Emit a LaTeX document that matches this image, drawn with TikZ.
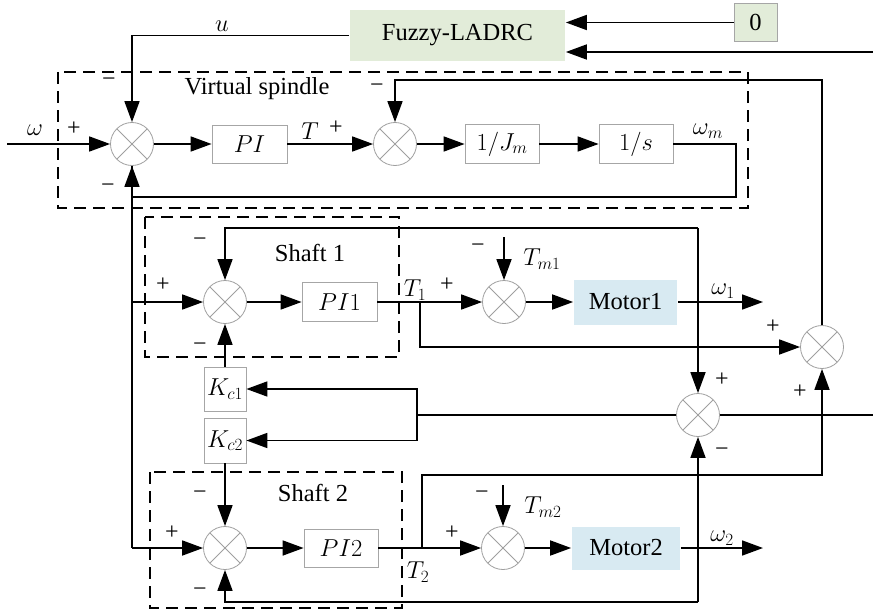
\RequirePackage{fix-cm}
\documentclass[tikz,border=0pt]{standalone}
\usepackage{fontspec}
\setmainfont{Liberation Serif}
\newfontfamily\tnr{Liberation Serif}
\usetikzlibrary{arrows.meta}
\definecolor{fzgreen}{RGB}{226,236,217}
\definecolor{mblue}{RGB}{216,234,242}
\begin{document}
\begin{tikzpicture}[x=1pt,y=-1pt,
  font=\tnr\fontsize{24.5}{28}\selectfont,
  line width=1.7pt,
  arr/.style={-{Triangle[length=21pt,width=15pt]}},
  sumnode/.style={circle,draw=gray!75,line width=0.8pt,minimum size=43pt,inner sep=0pt,
     path picture={\draw[gray!75,line width=0.8pt] (path picture bounding box.north west)--(path picture bounding box.south east) (path picture bounding box.north east)--(path picture bounding box.south west);}},
  blk/.style={draw=gray!70,line width=0.8pt,fill=white,inner sep=0pt},
  sgn/.style={font=\tnr\fontsize{24}{26}\selectfont,inner sep=0pt},
  lbl/.style={inner sep=0pt},
  dbox/.style={dash pattern=on 12pt off 7pt,line width=1.6pt}
]
\useasboundingbox (0,0) rectangle (873,610);
% dashed groups
\draw[dbox] (58,72) rectangle (748,208);
\draw[dbox] (145,217) rectangle (399,357);
\draw[dbox] (150,472) rectangle (402,608);

% nodes
\node[fill=fzgreen,minimum width=215pt,minimum height=51pt,inner sep=0pt] (fz) at (457.5,35.5) {Fuzzy-LADRC};
\node[fill=fzgreen,draw=gray!70,line width=0.8pt,minimum width=43pt,minimum height=38pt,inner sep=0pt] (zero) at (755.5,22.5) {0};

\node[sumnode] (s1) at (132,144) {};
\node[sumnode] (s2) at (395,144) {};
\node[sumnode] (s3) at (225,302) {};
\node[sumnode] (s4) at (504,302) {};
\node[sumnode] (s5) at (225,548) {};
\node[sumnode] (s6) at (503,548) {};
\node[sumnode] (sm) at (698,415) {};
\node[sumnode] (sr) at (822,347) {};

\node[blk,minimum width=75pt,minimum height=38pt] (pi) at (249.5,144) {$PI$};
\node[blk,minimum width=74pt,minimum height=39pt] (jm) at (502,144) {$1/J_m$};
\node[blk,minimum width=74pt,minimum height=39pt] (sb) at (636,144) {$1/s$};
\node[blk,minimum width=75pt,minimum height=39pt] (pi1) at (339.5,302) {$PI1$};
\node[fill=mblue,minimum width=103pt,minimum height=45pt,inner sep=0pt] (m1) at (625.5,302) {Motor1};
\node[blk,minimum width=74pt,minimum height=38pt] (pi2) at (341,548) {$PI2$};
\node[fill=mblue,minimum width=108pt,minimum height=43pt,inner sep=0pt] (m2) at (626,548) {Motor2};
\node[blk,minimum width=42pt,minimum height=44pt] (kc1) at (225,389) {$K_{c1}$};
\node[blk,minimum width=42pt,minimum height=45pt] (kc2) at (225,440.5) {$K_{c2}$};

% coordinates
\coordinate (win) at (7,144);
\coordinate (wm1) at (736,144);
\coordinate (wm2) at (736,197);
\coordinate (vb) at (132,548);
\coordinate (t1) at (420,302);
\coordinate (tm1) at (504,237);
\coordinate (w1e) at (763,302);
\coordinate (c228) at (698,228);
\coordinate (c602) at (698,602);
\coordinate (kb) at (417,415);
\coordinate (re2) at (873,415);
\coordinate (t2) at (422,548);
\coordinate (c475) at (822,475);
\coordinate (tm2) at (503,485);
\coordinate (w2e) at (763,548);
\coordinate (c80) at (822,80);
\coordinate (re1) at (873,52);

% connectors
\draw[arr] (win) -- (s1.west);
\draw[arr] (s1.east) -- (pi.west);
\draw[arr] (pi.east) -- (s2.west);
\draw[arr] (s2.east) -- (jm.west);
\draw[arr] (jm.east) -- (sb.west);
\draw[arr] (sb.east) -- (wm1) -- (wm2) -| (s1.south);
\draw (s1.south) -- (vb);
\draw[arr] (vb) -- (s5.west);
\draw[arr] (s1.south |- s3.west) -- (s3.west);
\draw[arr] (s3.east) -- (pi1.west);
\draw[arr] (pi1.east) -- (s4.west);
\draw[arr] (t1) |- (sr.west);
\draw[arr] (tm1) -- (s4.north);
\draw[arr] (s4.east) -- (m1.west);
\draw[arr] (m1.east) -- (w1e);
\draw[arr] (c228) -| (s3.north);
\draw[arr] (c228) -- (sm.north);
\draw[arr] (c602) -| (s5.south);
\draw[arr] (c602) -- (sm.south);
\draw (sm.west) -- (kb);
\draw[arr] (kb) |- (kc1.east);
\draw[arr] (kb) |- (kc2.east);
\draw (sm.east) -- (re2);
\draw[arr] (kc1.north) -- (s3.south);
\draw[arr] (kc2.south) -- (s5.north);
\draw[arr] (s5.east) -- (pi2.west);
\draw[arr] (pi2.east) -- (s6.west);
\draw[arr] (t2) |- (c475) -- (sr.south);
\draw[arr] (tm2) -- (s6.north);
\draw[arr] (s6.east) -- (m2.west);
\draw[arr] (m2.east) -- (w2e);
\draw[arr] (sr.north) -- (c80) -| (s2.north);
\draw[arr] (fz.west) -| (s1.north);
\draw[arr] (zero.west) -- (fz.east |- zero.west);
\draw[arr] (re1) -- (fz.east |- re1);

% labels
\node[lbl] (lu) at (222,26) {$u$};
\node[lbl] (lvs) at (257,89) {Virtual spindle};
\node[lbl] (lw) at (35,130) {$\omega$};
\node[sgn] (p1) at (74,129) {+};
\node[sgn] (n1) at (109,82) {−};
\node[sgn] (n2) at (108,188) {−};
\node[lbl] (lT) at (310,131) {$T$};
\node[sgn] (p2) at (336,128) {+};
\node[sgn] (n3) at (377,88) {−};
\node[lbl] (lwm) at (708,131) {$\omega_m$};
\node[lbl] (ls1) at (310,253) {Shaft 1};
\node[sgn] (n4) at (200,242) {−};
\node[sgn] (p3) at (163,285) {+};
\node[sgn] (n5) at (200,347) {−};
\node[lbl] (lT1) at (415,290) {$T_1$};
\node[sgn] (p4) at (447,285) {+};
\node[sgn] (n6) at (478,248) {−};
\node[lbl] (lTm1) at (542,259) {$T_{m1}$};
\node[lbl] (lw1) at (723,291) {$\omega_1$};
\node[sgn] (p5) at (773,327) {+};
\node[sgn] (p6) at (722,380) {+};
\node[sgn] (p7) at (800,392) {+};
\node[sgn] (n7) at (722,452) {−};
\node[lbl] (ls2) at (313,493) {Shaft 2};
\node[sgn] (n8) at (200,495) {−};
\node[sgn] (p8) at (172,533) {+};
\node[sgn] (n9) at (200,592) {−};
\node[lbl] (lT2) at (418,572) {$T_2$};
\node[sgn] (p9) at (452,533) {+};
\node[sgn] (n10) at (482,495) {−};
\node[lbl] (lTm2) at (543,507) {$T_{m2}$};
\node[lbl] (lw2) at (722,538) {$\omega_2$};
\end{tikzpicture}
\end{document}
